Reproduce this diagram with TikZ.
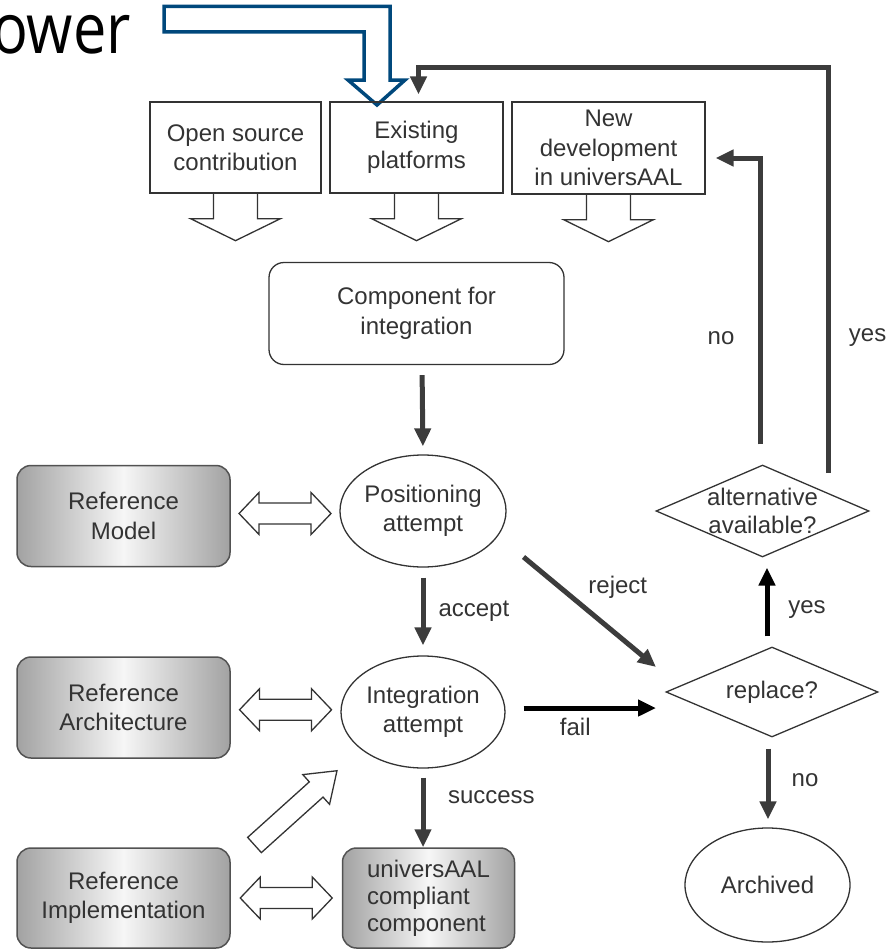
\documentclass[tikz,border=0pt]{standalone}
\usepackage{fontspec}
\setmainfont{Liberation Sans}
\newfontfamily\headfont{Open Sans}
\usetikzlibrary{arrows.meta,shapes.geometric,calc}
\definecolor{ink}{HTML}{333333}
\definecolor{flowgray}{HTML}{3C3C3C}
\definecolor{uaalblue}{HTML}{00487C}
\definecolor{shadegray}{HTML}{A2A2A2}
\definecolor{shadelight}{HTML}{F6F6F6}

\tikzset{
  every node/.style={font=\fontsize{24}{29.5}\selectfont, text=ink},
  inbox/.style={draw=ink, line width=1.3pt, minimum height=91pt, inner sep=0pt, align=center},
  compbox/.style={draw=ink, line width=1.3pt, rounded corners=15pt, minimum width=295pt, minimum height=102pt, align=center},
  refbox/.style={draw=ink!85, line width=1.5pt, rounded corners=14pt, left color=shadegray, right color=shadegray,
    middle color=shadelight, minimum width=213pt, minimum height=101pt, inner sep=0pt, align=center},
  stepell/.style={ellipse, draw=ink, line width=1.3pt, minimum width=164pt, minimum height=112pt, inner sep=0pt, align=center},
  choice/.style={diamond, draw=ink, line width=1.3pt, inner sep=0pt},
  flow/.style={draw=flowgray, line width=5pt, -{Triangle[length=18pt,width=16pt]}},
  flowdark/.style={flow, draw=black},
  tag/.style={inner sep=0pt},
  hollow/.style={draw=ink, line width=1.3pt, fill=white, line join=miter},
  blockline/.style={draw=ink, line width=1.3pt, line join=miter},
  dblarrow/.pic={\draw[hollow] (-46,0) -- (-26,-21) -- (-26,-10.5) -- (26,-10.5) -- (26,-21) -- (46,0)
    -- (26,21) -- (26,10.5) -- (-26,10.5) -- (-26,21) -- cycle;},
  fatarrow/.pic={\draw[hollow] (0,-10.25) -- (83,-10.25) -- (83,-20) -- (111,0) -- (83,20) -- (83,10.25)
    -- (0,10.25) -- cycle;}
}

% arrow shape below an input box
\newcommand\outblock[1]{%
  \draw[blockline, shift={(#1.south)}] (-22,0) -- (-22,25) -- (-45,25) -- (0,47) -- (45,25) -- (22,25) -- (22,0);}

\begin{document}
\begin{tikzpicture}[x=1pt,y=-1pt]
  \useasboundingbox (0,0) rectangle (889,950);

  % heading fragment and blue arrow
  \node[font=\headfont\fontsize{70}{70}\selectfont, text=black, anchor=base east, xscale=0.85, inner sep=0pt] (ttl) at (131,53) {ower};
  \draw[draw=uaalblue, line width=3.5pt, line join=miter]
    (164,6.5) -- (390,6.5) -- (390,80) -- (405,80) -- (377,105) -- (348,80) -- (364,80) -- (364,32) -- (164,32) -- cycle;

  % inputs
  \node[inbox, minimum width=171pt] (os) at (235.5,147.5) {Open source\\contribution};
  \node[inbox, minimum width=173pt] (ep) at (416.5,147.5) {Existing\\platforms};
  \node[inbox, minimum width=193pt, minimum height=92pt] (nd) at (608.5,148) {New\\development\\in universAAL};
  \outblock{os}
  \outblock{ep}
  \outblock{nd}

  \node[compbox] (ci) at (416.5,313.5) {Component for\\integration};

  % process
  \node[stepell] (pa) at (423,511) {Positioning\\attempt};
  \node[stepell] (ia) at (423,712) {Integration\\attempt};
  \node[refbox, font=\fontsize{24}{27}\selectfont, minimum width=172pt, minimum height=100pt, align=left] (uc) at (428.5,898)
    {universAAL\\compliant\\component};

  % reference material
  \node[refbox] (rm) at (123.5,516) {Reference\\Model};
  \node[refbox] (ra) at (123.5,707.5) {Reference\\Architecture};
  \node[refbox, minimum height=100pt] (ri) at (123.5,898) {Reference\\Implementation};
  \path ($(rm.east)!0.5!(pa.west)$) pic {dblarrow};
  \path ($(ra.east)!0.5!(ia.west)$) pic {dblarrow};
  \path ($(ri.east)!0.5!(uc.west)$) pic {dblarrow};
  \path (254.5,845) pic[rotate=42] {fatarrow};

  % decisions
  \node[choice, minimum width=213pt, minimum height=92pt] (av) at (762.5,511) {};
  \node[tag, align=center, font=\fontsize{24}{28}\selectfont] (avt) at (av.center) {alternative\\available?};
  \node[choice, minimum width=212pt, minimum height=90pt] (rp) at (772,692) {};
  \node[tag] (rpt) at (rp.center) {replace?};
  \node[stepell, minimum width=165pt, minimum height=114pt] (ar) at (767.5,885) {Archived};

  % connectors
  \draw[flow, shorten <=10pt, shorten >=8pt] ([xshift=5.5pt]ci.south) -- (pa.north);
  \draw[flow, shorten <=10pt, shorten >=10pt] (pa.south) -- node[tag, midway, right=13pt] {accept} (ia.north);
  \draw[flow, shorten <=9pt] (ia.south) -- node[tag, midway, anchor=west, xshift=22.5pt, yshift=11pt] {success} (ia.south |- uc.north);
  \draw[flow] ([shift={(100.5,46)}]pa.center) -- node[tag, midway, xshift=28pt, yshift=25pt] {reject} ([shift={(-116,-25)}]rp.center);
  \draw[flowdark] ([shift={(100.5,-4)}]ia.center) -- node[tag, midway, xshift=-14.5pt, yshift=-19pt] {fail} ([shift={(-116,16)}]rp.center);
  \draw[flowdark, shorten <=10pt, shorten >=10pt] ([xshift=-5pt]rp.north) -- node[tag, midway, xshift=40pt, yshift=-8pt] {yes} ([xshift=4.5pt]av.south);
  \draw[flow, shorten <=11pt, shorten >=8pt] ([xshift=-4pt]rp.south) -- node[tag, midway, xshift=37pt, yshift=2pt] {no} ([xshift=0.5pt]ar.north);
  \draw[flow, shorten >=10pt] ([shift={(-2.5,-20)}]av.north) |- node[tag, pos=0.186, xshift=-39pt] {no} ([yshift=-10pt]nd.east);
  \draw[flow, line join=miter] ([shift={(-41,-38)}]av.east) |- node[tag, pos=0.167, xshift=39pt] {yes} ([shift={(2,-34)}]ep.north)
    -- ([shift={(2,-7)}]ep.north);
\end{tikzpicture}
\end{document}
